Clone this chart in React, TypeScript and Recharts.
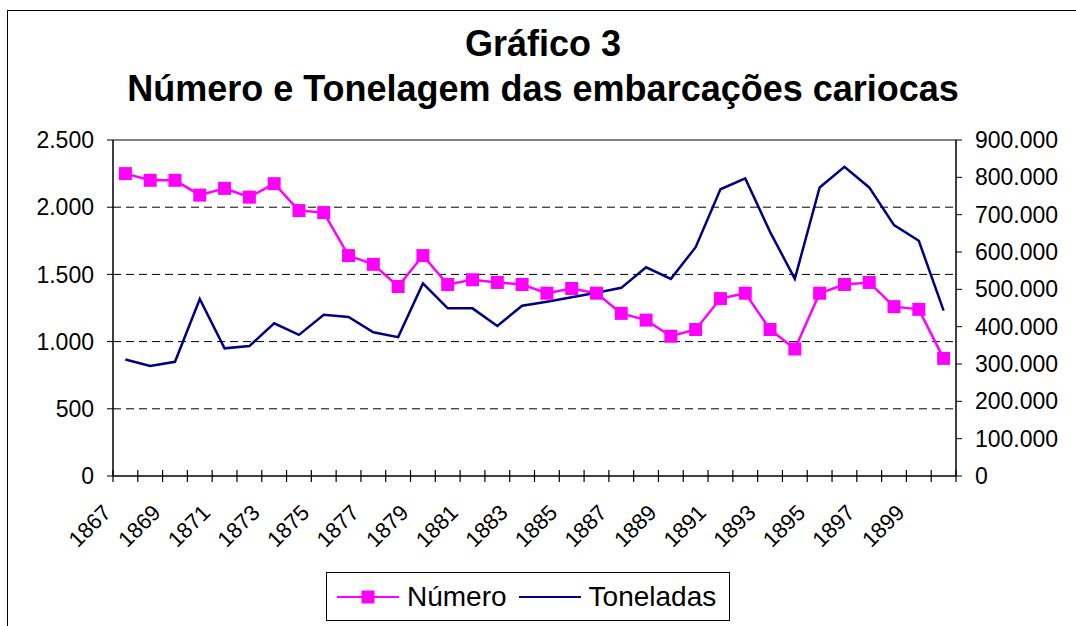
import React from "react";
import {
  CartesianGrid,
  Legend,
  Line,
  LineChart,
  ReferenceLine,
  XAxis,
  YAxis,
} from "recharts";

const years = [
  1867, 1868, 1869, 1870, 1871, 1872, 1873, 1874, 1875, 1876, 1877, 1878,
  1879, 1880, 1881, 1882, 1883, 1884, 1885, 1886, 1887, 1888, 1889, 1890,
  1891, 1892, 1893, 1894, 1895, 1896, 1897, 1898, 1899, 1900,
];

const numero = [
  2250, 2200, 2200, 2090, 2140, 2075, 2175, 1975, 1960, 1640, 1575, 1410,
  1640, 1425, 1460, 1440, 1425, 1360, 1395, 1360, 1210, 1160, 1040, 1090,
  1320, 1360, 1090, 945, 1360, 1425, 1440, 1260, 1240, 875,
];

const toneladas = [
  312000, 295000, 306000, 474000, 342000, 348000, 409000, 378000, 432000,
  426000, 385000, 372000, 516000, 449000, 449000, 402000, 456000, 467000,
  479000, 491000, 504000, 559000, 528000, 613000, 768000, 797000, 654000,
  528000, 773000, 828000, 773000, 672000, 630000, 443000,
];

const labelYears = [
  1867, 1869, 1871, 1873, 1875, 1877, 1879, 1881, 1883, 1885, 1887, 1889,
  1891, 1893, 1895, 1897, 1899,
];

const leftTicks = [0, 500, 1000, 1500, 2000, 2500];
const rightTicks = [
  0, 100000, 200000, 300000, 400000, 500000, 600000, 700000, 800000, 900000,
];

const data = years.map((year, i) => ({
  year,
  numero: numero[i],
  toneladas: toneladas[i],
}));

// category boundaries (tick marks) + labelled years
const boundaries = [...years.map((y) => y - 0.5), years[years.length - 1] + 0.5];
const xTicks = [...boundaries, ...labelYears].sort((a, b) => a - b);

const FONT = "'Liberation Sans', Arial, sans-serif";

const fmt = (v: number) => String(v).replace(/\B(?=(\d{3})+(?!\d))/g, ".");

function XTick(props: any) {
  const { x, y, payload } = props;
  const v = payload.value;
  if (!Number.isInteger(v)) {
    return <line x1={x} x2={x} y1={y - 6} y2={y + 6} stroke="#000" strokeWidth={1.2} />;
  }
  const ex = x - 13;
  const ey = y + 38;
  return (
    <text
      x={ex}
      y={ey}
      textAnchor="end"
      style={{ fontSize: 22, fontFamily: FONT }}
      fill="#000"
      transform={`rotate(-45, ${ex}, ${ey})`}
    >
      {v}
    </text>
  );
}

function SquareDot(props: any) {
  const { cx, cy } = props;
  if (cx == null || cy == null) return null;
  return <rect x={cx - 6.5} y={cy - 6.5} width={13} height={13} fill="#FF00FF" />;
}

function LegendBox() {
  return (
    <div
      style={{
        boxSizing: "border-box",
        width: 404,
        height: 49,
        border: "1px solid #000",
        background: "#fff",
        display: "flex",
        alignItems: "center",
        paddingLeft: 10,
        fontFamily: FONT,
        fontSize: 28,
        color: "#000",
      }}
    >
      <svg width={62} height={20} style={{ marginRight: 8 }}>
        <line x1={0} x2={62} y1={10} y2={10} stroke="#FF00FF" strokeWidth={2} />
        <rect x={24.5} y={3.5} width={13} height={13} fill="#FF00FF" />
      </svg>
      <span>Número</span>
      <svg width={62} height={20} style={{ marginLeft: 12, marginRight: 8 }}>
        <line x1={0} x2={62} y1={10} y2={10} stroke="#000080" strokeWidth={2} />
      </svg>
      <span>Toneladas</span>
    </div>
  );
}

export default function App() {
  return (
    <div
      style={{
        position: "absolute",
        left: 0,
        top: 0,
        width: 1076,
        height: 626,
        background: "#fff",
        overflow: "hidden",
      }}
    >
      <div
        style={{
          position: "absolute",
          left: 7,
          top: 10,
          width: 1200,
          height: 800,
          border: "1px solid #000",
        }}
      />
      <div
        style={{
          position: "absolute",
          left: 0,
          top: 21,
          width: 1086,
          textAlign: "center",
          fontFamily: FONT,
          fontWeight: "bold",
          fontSize: 36,
          lineHeight: "45px",
          color: "#000",
        }}
      >
        Gráfico 3
        <br />
        Número e Tonelagem das embarcações cariocas
      </div>
      <div style={{ position: "absolute", left: 0, top: 0 }}>
        <LineChart
          width={1076}
          height={626}
          data={data}
          margin={{ top: 140, right: 0, bottom: 0, left: 0 }}
        >
          <CartesianGrid
            yAxisId="left"
            vertical={false}
            horizontalValues={[500, 1000, 1500, 2000]}
            stroke="#000"
            strokeDasharray="8 5"
          />
          <XAxis
            dataKey="year"
            type="number"
            domain={[1866.5, 1900.5]}
            ticks={xTicks}
            interval={0}
            height={150}
            tickLine={false}
            tickSize={0}
            tickMargin={0}
            tick={<XTick />}
            axisLine={{ stroke: "#000", strokeWidth: 1.5 }}
          />
          <YAxis
            yAxisId="left"
            width={113}
            domain={[0, 2500]}
            ticks={leftTicks}
            interval={0}
            tickFormatter={fmt}
            tickSize={6}
            tickMargin={13}
            tick={{ fontSize: 23, fontFamily: FONT, fill: "#000" }}
            tickLine={{ stroke: "#000" }}
            axisLine={{ stroke: "#000", strokeWidth: 1.5 }}
          />
          <YAxis
            yAxisId="right"
            orientation="right"
            width={120}
            domain={[0, 900000]}
            ticks={rightTicks}
            interval={0}
            tickFormatter={fmt}
            tickSize={6}
            tickMargin={13}
            tick={{ fontSize: 23, fontFamily: FONT, fill: "#000", textAnchor: "start" }}
            tickLine={{ stroke: "#000" }}
            axisLine={{ stroke: "#000", strokeWidth: 1.5 }}
          />
          <ReferenceLine yAxisId="left" y={2500} stroke="#808080" strokeWidth={2} />
          <Line
            yAxisId="left"
            dataKey="numero"
            name="Número"
            stroke="#FF00FF"
            strokeWidth={2.5}
            dot={<SquareDot />}
            activeDot={false}
            isAnimationActive={false}
          />
          <Line
            yAxisId="right"
            dataKey="toneladas"
            name="Toneladas"
            stroke="#000080"
            strokeWidth={2.5}
            dot={false}
            activeDot={false}
            isAnimationActive={false}
          />
          <Legend
            layout="horizontal"
            verticalAlign="middle"
            align="center"
            content={<LegendBox />}
            wrapperStyle={{ left: 326, top: 572, width: 404, height: 49 }}
          />
        </LineChart>
      </div>
    </div>
  );
}
